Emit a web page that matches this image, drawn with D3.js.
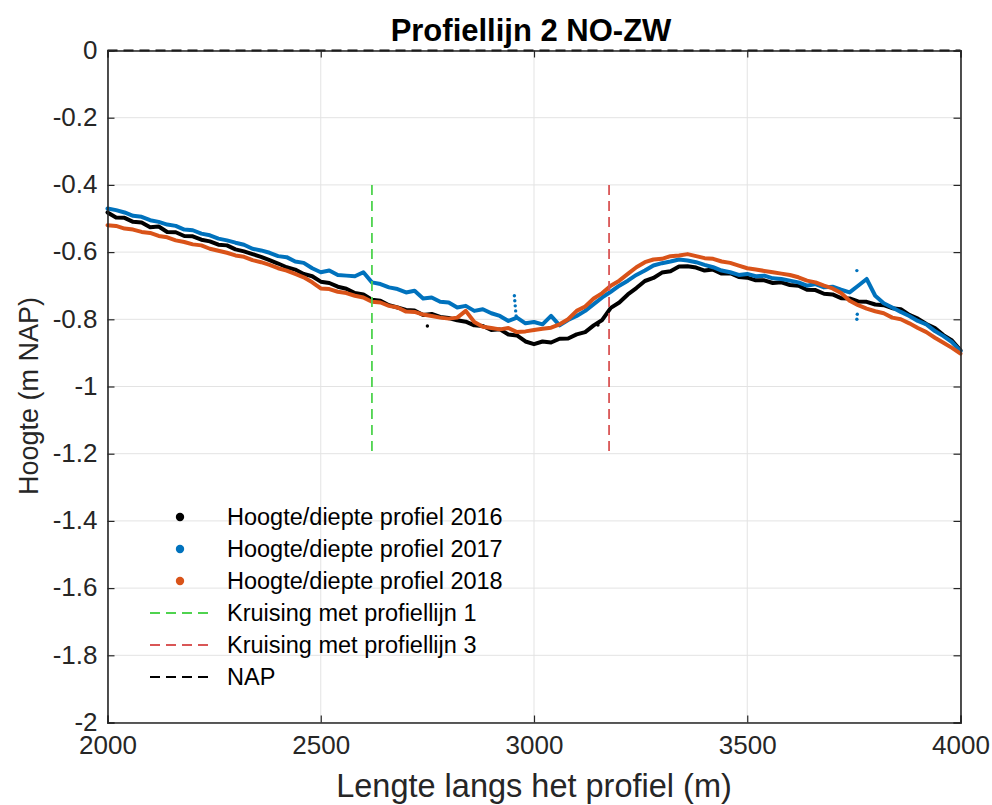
<!DOCTYPE html>
<html>
<head>
<meta charset="utf-8">
<script src="https://cdn.jsdelivr.net/npm/d3@7"></script>
<style>
  html, body { margin: 0; padding: 0; background: #fff; }
  svg { display: block; font-family: "Liberation Sans", Arial, Helvetica, sans-serif; }
</style>
</head>
<body>
<svg id="chart" width="992" height="805"></svg>
<script>
// Profile measurements along line 2 (NE-SW), every 20 m from 2000 to 4000 m
const xStart = 2000, xStep = 20;

const hoogte2016 = [
  -0.482,-0.497,-0.498,-0.510,-0.512,-0.526,-0.524,-0.540,-0.541,-0.552,
  -0.553,-0.563,-0.568,-0.578,-0.580,-0.592,-0.598,-0.606,-0.614,-0.624,
  -0.634,-0.645,-0.652,-0.665,-0.672,-0.688,-0.692,-0.703,-0.709,-0.722,
  -0.726,-0.742,-0.745,-0.758,-0.765,-0.772,-0.774,-0.787,-0.784,-0.793,
  -0.796,-0.803,-0.807,-0.818,-0.820,-0.832,-0.830,-0.845,-0.848,-0.866,
  -0.874,-0.866,-0.869,-0.858,-0.857,-0.845,-0.838,-0.818,-0.802,-0.766,
  -0.750,-0.726,-0.707,-0.686,-0.677,-0.661,-0.657,-0.643,-0.642,-0.646,
  -0.655,-0.652,-0.664,-0.663,-0.674,-0.676,-0.684,-0.684,-0.692,-0.690,
  -0.698,-0.700,-0.712,-0.713,-0.724,-0.726,-0.737,-0.738,-0.747,-0.748,
  -0.756,-0.758,-0.767,-0.770,-0.787,-0.798,-0.814,-0.826,-0.847,-0.863,
  -0.892
];

const hoogte2017 = [
  -0.470,-0.475,-0.482,-0.492,-0.495,-0.505,-0.510,-0.518,-0.522,-0.533,
  -0.535,-0.545,-0.550,-0.560,-0.565,-0.572,-0.578,-0.590,-0.595,-0.602,
  -0.612,-0.615,-0.628,-0.632,-0.648,-0.660,-0.655,-0.668,-0.670,-0.672,
  -0.660,-0.690,-0.695,-0.705,-0.710,-0.720,-0.715,-0.738,-0.735,-0.748,
  -0.750,-0.765,-0.760,-0.775,-0.770,-0.782,-0.790,-0.805,-0.795,-0.812,
  -0.808,-0.815,-0.790,-0.818,-0.802,-0.790,-0.775,-0.755,-0.735,-0.718,
  -0.700,-0.685,-0.668,-0.655,-0.640,-0.633,-0.628,-0.622,-0.625,-0.630,
  -0.638,-0.645,-0.655,-0.660,-0.668,-0.665,-0.672,-0.670,-0.678,-0.680,
  -0.685,-0.690,-0.700,-0.695,-0.705,-0.703,-0.712,-0.720,-0.700,-0.680,
  -0.730,-0.752,-0.765,-0.778,-0.790,-0.805,-0.815,-0.835,-0.850,-0.868,
  -0.895
];

const hoogte2018 = [
  -0.520,-0.522,-0.530,-0.533,-0.540,-0.543,-0.552,-0.556,-0.565,-0.570,
  -0.577,-0.580,-0.590,-0.596,-0.602,-0.610,-0.614,-0.624,-0.630,-0.638,
  -0.648,-0.655,-0.665,-0.675,-0.690,-0.708,-0.710,-0.718,-0.722,-0.730,
  -0.735,-0.748,-0.750,-0.760,-0.765,-0.777,-0.778,-0.786,-0.790,-0.795,
  -0.798,-0.795,-0.775,-0.808,-0.822,-0.826,-0.830,-0.826,-0.838,-0.836,
  -0.832,-0.828,-0.825,-0.815,-0.800,-0.775,-0.762,-0.738,-0.722,-0.700,
  -0.685,-0.665,-0.645,-0.630,-0.622,-0.620,-0.612,-0.610,-0.606,-0.612,
  -0.618,-0.620,-0.628,-0.632,-0.640,-0.648,-0.652,-0.656,-0.660,-0.664,
  -0.668,-0.675,-0.685,-0.690,-0.700,-0.708,-0.722,-0.745,-0.758,-0.768,
  -0.776,-0.782,-0.795,-0.800,-0.812,-0.826,-0.838,-0.855,-0.870,-0.885,
  -0.902
];

// Loose soundings that sit off the main profile
const losse2016 = [[2750, -0.820], [3150, -0.817]];
const losse2017 = [[2954, -0.730], [2955, -0.745], [2956, -0.760], [2957, -0.775],
                   [2958, -0.790], [3757, -0.655], [3757, -0.800], [3758, -0.785]];

// Crossings with the other profile lines
const kruisingen = [
  { x: 2620, y0: -0.4, y1: -1.2, color: "#4fd34f" },
  { x: 3176, y0: -0.4, y1: -1.2, color: "#d95656" }
];

const xTicks = [2000, 2500, 3000, 3500, 4000];
const yTicks = [0, -0.2, -0.4, -0.6, -0.8, -1, -1.2, -1.4, -1.6, -1.8, -2];

const legendLabels = [
  "Hoogte/diepte profiel 2016",
  "Hoogte/diepte profiel 2017",
  "Hoogte/diepte profiel 2018",
  "Kruising met profiellijn 1",
  "Kruising met profiellijn 3",
  "NAP"
];

const colors = { y2016: "#000000", y2017: "#0072bd", y2018: "#d95319" };

const svg = d3.select("#chart");
const plotLeft = 107.5, plotRight = 960.5, plotTop = 50.5, plotBottom = 722.5;

const x = d3.scaleLinear().domain([2000, 4000]).range([plotLeft, plotRight]);
const y = d3.scaleLinear().domain([-2, 0]).range([plotBottom, plotTop]);

const fmt = d => String(+(+d).toFixed(1));

// grid
const grid = svg.append("g");
grid.selectAll("line.gx").data(xTicks).join("line")
  .attr("x1", d => x(d)).attr("x2", d => x(d))
  .attr("y1", plotTop).attr("y2", plotBottom)
  .attr("stroke", "#e3e3e3").attr("stroke-width", 1);
grid.selectAll("line.gy").data(yTicks).join("line")
  .attr("x1", plotLeft).attr("x2", plotRight)
  .attr("y1", d => y(d)).attr("y2", d => y(d))
  .attr("stroke", "#e3e3e3").attr("stroke-width", 1);

// data
const series = [
  { vals: hoogte2016, color: colors.y2016 },
  { vals: hoogte2017, color: colors.y2017 },
  { vals: hoogte2018, color: colors.y2018 }
];
const line = d3.line().x((d, i) => x(xStart + i * xStep)).y(d => y(d));
const plot = svg.append("g");
series.forEach(s => {
  plot.append("path").datum(s.vals)
    .attr("d", line)
    .attr("fill", "none")
    .attr("stroke", s.color)
    .attr("stroke-width", 4)
    .attr("stroke-linejoin", "round")
    .attr("stroke-linecap", "round");
});
plot.selectAll("circle.l16").data(losse2016).join("circle")
  .attr("cx", d => x(d[0])).attr("cy", d => y(d[1])).attr("r", 1.7)
  .attr("fill", colors.y2016);
plot.selectAll("circle.l17").data(losse2017).join("circle")
  .attr("cx", d => x(d[0])).attr("cy", d => y(d[1])).attr("r", 1.7)
  .attr("fill", colors.y2017);

// crossing lines
svg.append("g").selectAll("line").data(kruisingen).join("line")
  .attr("x1", d => x(d.x)).attr("x2", d => x(d.x))
  .attr("y1", d => y(d.y0)).attr("y2", d => y(d.y1))
  .attr("stroke", d => d.color).attr("stroke-width", 1.8)
  .attr("stroke-dasharray", "10,6");

// NAP reference
svg.append("line")
  .attr("x1", x(2000)).attr("x2", x(4000))
  .attr("y1", y(0)).attr("y2", y(0))
  .attr("stroke", "#000").attr("stroke-width", 1.8)
  .attr("stroke-dasharray", "10,6");

// axes (ticks pointing inwards, box around the plot)
const axisColor = "#262626";
const gx = svg.append("g").attr("transform", `translate(0,${plotBottom})`)
  .call(d3.axisBottom(x).tickValues(xTicks).tickSize(-7).tickPadding(16).tickFormat(d3.format("d")));
const gy = svg.append("g").attr("transform", `translate(${plotLeft},0)`)
  .call(d3.axisLeft(y).tickValues(yTicks).tickSize(-7).tickPadding(10).tickFormat(fmt));
const gt = svg.append("g").attr("transform", `translate(0,${plotTop})`)
  .call(d3.axisTop(x).tickValues(xTicks).tickSize(-7).tickFormat(""));
const gr = svg.append("g").attr("transform", `translate(${plotRight},0)`)
  .call(d3.axisRight(y).tickValues(yTicks).tickSize(-7).tickFormat(""));
[gx, gy, gt, gr].forEach(g => {
  g.select(".domain").attr("stroke", axisColor).attr("stroke-width", 1.6);
  g.selectAll(".tick line").attr("stroke", axisColor).attr("stroke-width", 1.2);
  g.selectAll(".tick text").attr("fill", axisColor)
    .style("font-family", "'Liberation Sans', Arial, sans-serif").style("font-size", "26px");
});
gx.selectAll(".tick text").attr("dy", "0.6em");
gy.selectAll(".tick text").attr("dy", "0.3em");

// title and labels
svg.append("text").attr("x", 531).attr("y", 41).attr("text-anchor", "middle")
  .style("font-size", "31px").style("font-weight", "bold").attr("fill", "#000")
  .text("Profiellijn 2 NO-ZW");
svg.append("text").attr("x", 534).attr("y", 797).attr("text-anchor", "middle")
  .style("font-size", "32.5px").attr("fill", axisColor)
  .text("Lengte langs het profiel (m)");
svg.append("text").attr("transform", "translate(38,396) rotate(-90)").attr("text-anchor", "middle")
  .style("font-size", "27px").attr("fill", axisColor)
  .text("Hoogte (m NAP)");

// legend
const legendItems = [
  { kind: "dot", color: colors.y2016 },
  { kind: "dot", color: colors.y2017 },
  { kind: "dot", color: colors.y2018 },
  { kind: "dash", color: kruisingen[0].color },
  { kind: "dash", color: kruisingen[1].color },
  { kind: "dash", color: "#000" }
].map((d, i) => ({ ...d, label: legendLabels[i] }));

const lg = svg.append("g");
const rows = lg.selectAll("g").data(legendItems).join("g")
  .attr("transform", (d, i) => `translate(0,${517 + i * 32})`);
rows.filter(d => d.kind === "dot").append("circle")
  .attr("cx", 180).attr("cy", 0).attr("r", 4.2).attr("fill", d => d.color);
rows.filter(d => d.kind === "dash").append("line")
  .attr("x1", 150).attr("x2", 212).attr("y1", 0).attr("y2", 0)
  .attr("stroke", d => d.color).attr("stroke-width", 1.8)
  .attr("stroke-dasharray", "10,6");
rows.append("text").attr("x", 227).attr("y", 0).attr("dy", "0.35em")
  .style("font-size", "23.5px").attr("fill", "#000")
  .text(d => d.label);
</script>
</body>
</html>
